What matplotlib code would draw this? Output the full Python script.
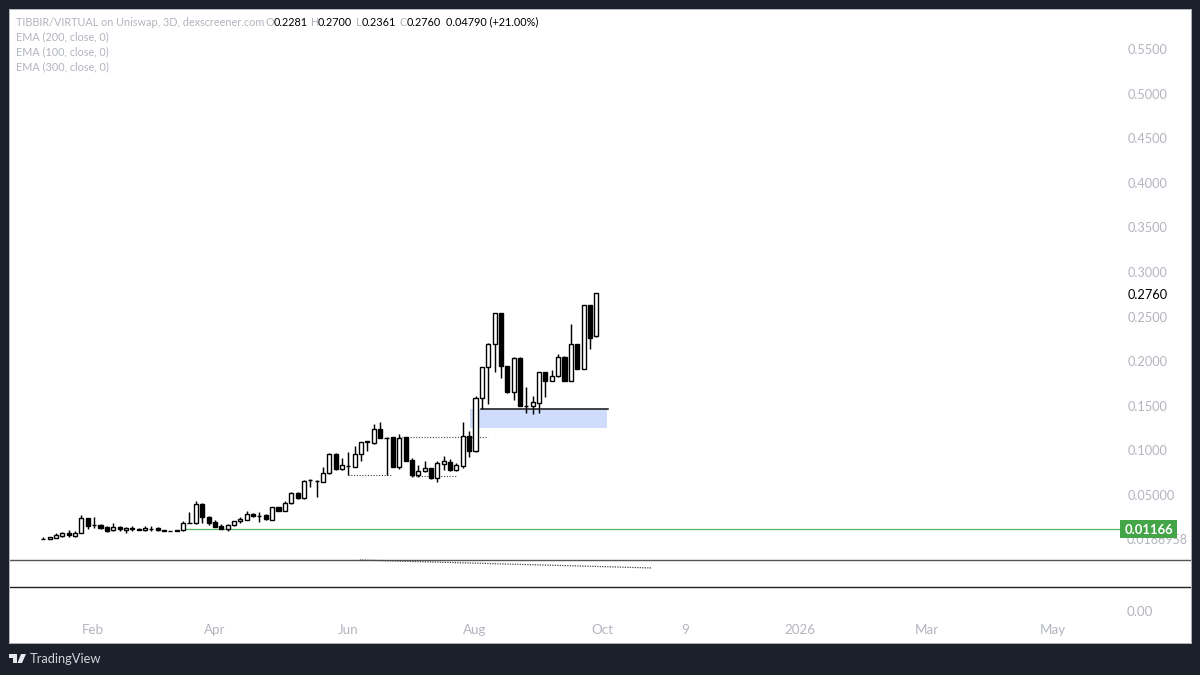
import matplotlib
matplotlib.use("Agg")
import matplotlib.pyplot as plt
from matplotlib.patches import Polygon, Rectangle

# ---- data (prices) ----
opens = [.0009,.0012,.0014,.0040,.0070,.0044,.0078,.0238,.0164,.0167,.0141,.0104,.0138,.0108,.0126,.0123,
         .0104,.0124,.0126,.0108,.0098,.0104,.0104,.0186,.0182,.0399,.0257,.0194,.0152,.0119,.0163,.0205,
         .0224,.0283,.0268,.0272,.0224,.0366,.0324,.0407,.0519,.0466,.0668,.0662,.0649,.0743,.0963,.0788,
         .0829,.0818,.0963,.1098,.1079,.1236,.1143,.1150,.0818,.1146,.0896,.0724,.0765,.0799,.0687,.0847,
         .0874,.0776,.0825,.1161,.0993,.1591,.1935,.2197,.2537,.1946,.1651,.2040,.1502,.1502,.1528,.1875,
         .1782,.1834,.2051,.1782,.2189,.1913,.2630,.2281]
highs = [.0028,.0033,.0070,.0089,.0108,.0100,.0272,.0246,.0257,.0175,.0152,.0182,.0156,.0138,.0152,.0126,
         .0152,.0152,.0141,.0111,.0100,.0108,.0212,.0306,.0429,.0407,.0264,.0220,.0175,.0175,.0212,.0250,
         .0317,.0302,.0306,.0283,.0369,.0369,.0429,.0530,.0537,.0668,.0675,.0668,.0810,.0967,.0967,.0911,
         .0982,.1049,.1098,.1109,.1296,.1314,.1150,.1150,.1184,.1150,.0911,.0840,.0885,.0803,.0885,.0937,
         .0900,.0855,.1318,.1221,.1614,.1940,.2204,.2540,.2540,.1950,.2044,.2044,.1707,.1606,.1879,.1879,
         .1898,.2077,.2055,.2413,.2193,.2634,.2634,.2760]
lows = [.0003,.0007,.0014,.0025,.0033,.0033,.0070,.0119,.0126,.0119,.0081,.0096,.0100,.0078,.0100,.0104,
        .0100,.0100,.0100,.0096,.0092,.0098,.0100,.0182,.0175,.0190,.0167,.0138,.0115,.0100,.0152,.0190,
        .0220,.0250,.0201,.0220,.0220,.0320,.0317,.0400,.0451,.0459,.0593,.0474,.0642,.0735,.0780,.0780,
        .0724,.0810,.0885,.0997,.1071,.1135,.0720,.0810,.0788,.0877,.0705,.0705,.0758,.0683,.0646,.0780,
        .0772,.0769,.0799,.0930,.0978,.1464,.1520,.1883,.1815,.1648,.1565,.1498,.1419,.1408,.1419,.1599,
        .1778,.1827,.1778,.1778,.1909,.1909,.2137,.2276]
closes = [.0012,.0025,.0052,.0070,.0048,.0078,.0242,.0152,.0160,.0134,.0100,.0141,.0115,.0134,.0124,.0108,
          .0130,.0122,.0108,.0102,.0096,.0102,.0182,.0190,.0399,.0257,.0190,.0145,.0119,.0167,.0205,.0235,
          .0283,.0264,.0265,.0227,.0369,.0324,.0407,.0519,.0466,.0661,.0665,.0659,.0750,.0963,.0788,.0833,
          .0826,.0963,.1090,.1100,.1236,.1143,.1140,.0814,.1143,.0885,.0724,.0773,.0799,.0687,.0855,.0877,
          .0780,.0833,.1161,.0989,.1591,.1935,.2197,.2537,.1946,.1651,.2040,.1502,.1499,.1539,.1875,.1782,
          .1834,.2051,.1782,.2189,.1913,.2630,.2264,.2760]

y_ticks = [0.05, 0.10, 0.15, 0.20, 0.25, 0.30, 0.35, 0.40, 0.45, 0.50, 0.55]
y_labels = ["0.05000", "0.1000", "0.1500", "0.2000", "0.2500", "0.3000", "0.3500", "0.4000", "0.4500", "0.5000", "0.5500"]
x_ticks = [7.8, 26.9, 47.9, 67.9, 87.9, 101.0, 119.0, 139.0, 158.9]
x_labels = ["Feb", "Apr", "Jun", "Aug", "Oct", "9", "2026", "Mar", "May"]

last_price = 0.2760
green_level = 0.01166
support_level = 0.1464
zone_low = 0.1246
pane_line_a = -0.0224
pane_line_b = -0.0534
dotted_levels = [(47.9, 54.9, 0.0728), (55.96, 69.97, 0.1150), (58.2, 64.9, 0.0708)]
trend_x = [49.8, 95.8]
trend_y = [-0.0229, -0.0318]

# ---- layout ----
W, H = 1200, 675
L_PX, R_PX, T_PX, B_PX = 9, 1191, 9, 643
BG = "#1c202b"
GREY = "#b2b5be"
plt.rcParams["font.family"] = ["Lato", "DejaVu Sans"]

fig = plt.figure(figsize=(12, 6.75), dpi=100, facecolor=BG)
ax = fig.add_axes([L_PX / W, 1 - B_PX / H, (R_PX - L_PX) / W, (B_PX - T_PX) / H], facecolor="white")
ax.set_xlim((L_PX - 43.3) / 6.356, (R_PX - 43.3) / 6.356)
ax.set_ylim((539.6 - B_PX) / 892, (539.6 - T_PX) / 892)
for s in ax.spines.values():
    s.set_color("#aeb2ba")
    s.set_linewidth(0.7)

# zone under candles
ax.add_patch(Rectangle((67.1, zone_low), 21.6, support_level - zone_low, fc="#cfdcfb", ec="none", zorder=1))

# candles
idx = list(range(len(opens)))
ax.vlines(idx, lows, highs, color="black", lw=1.05, zorder=3)
bottoms = [min(o, c) for o, c in zip(opens, closes)]
heights = [abs(o - c) for o, c in zip(opens, closes)]
faces = ["white" if c >= o else "black" for o, c in zip(opens, closes)]
ax.bar(idx, heights, bottom=bottoms, width=0.64, color=faces, edgecolor="black", linewidth=1.0, zorder=4)

# levels
ax.plot([22.3, 170], [green_level] * 2, color="#57b35b", lw=0.85, zorder=2)
ax.plot([68.9, 88.85], [support_level] * 2, color="#111111", lw=1.1, zorder=5)
for x0, x1, lv in dotted_levels:
    ax.plot([x0, x1], [lv, lv], color="#444444", lw=0.8, ls=(0, (1, 1.5)), zorder=2)
ax.axhline(pane_line_a, color="#555555", lw=1.0, zorder=2)
ax.axhline(pane_line_b, color="#222222", lw=1.0, zorder=2)
ax.plot(trend_x, trend_y, color="#444444", lw=0.9, ls=(0, (1, 1)), zorder=2)

# axes ticks
ax.set_yticks(y_ticks, y_labels)
ax.yaxis.tick_right()
ax.tick_params(axis="y", length=0, direction="in", pad=-45.5, labelsize=9.2, labelcolor=GREY)
for lab in ax.get_yticklabels():
    lab.set_ha("left")
ax.set_xticks(x_ticks, x_labels)
ax.tick_params(axis="x", length=0, direction="in", pad=-14, labelsize=9.6, labelcolor=GREY)


def px(x, y):
    return x / W, 1 - y / H


fig.text(*px(1128, 295), f"{last_price:.4f}", color="black", fontsize=9.2, va="center", ha="left")
fig.text(*px(1127, 540), "0.0186958", color=GREY, fontsize=9.0, va="center", ha="left")
fig.text(*px(1127, 612), "0.00", color=GREY, fontsize=9.6, va="center", ha="left")
fig.patches.append(Rectangle(px(1120, 538), 57 / W, 18 / H, transform=fig.transFigure, fc="#43a547", ec="none", zorder=5))
fig.text(*px(1149, 529.5), f"{green_level:.5f}", color="white", fontsize=9.4, fontweight="bold",
         va="center", ha="center", zorder=6)

# legend
LEG = 7.8
fig.text(*px(16, 22), "TIBBIR/VIRTUAL on Uniswap, 3D, dexscreener.com", color=GREY, fontsize=LEG, va="center")
for x, t, c in [(266, "O", GREY), (274, "0.2281", "black"), (311, "H", GREY), (318, "0.2700", "black"),
                (356, "L", GREY), (362, "0.2361", "black"), (400, "C", GREY), (407, "0.2760", "black"),
                (446, "0.04790 (+21.00%)", "black")]:
    fig.text(*px(x, 22), t, color=c, fontsize=LEG, va="center")
for y, t in [(37, "EMA (200, close, 0)"), (52, "EMA (100, close, 0)"), (67, "EMA (300, close, 0)")]:
    fig.text(*px(16, y), t, color=GREY, fontsize=LEG, va="center")

# footer logo and name
LOGO = "#e6e8ee"
t = fig.transFigure
fig.patches.append(Polygon([px(9, 654), px(17, 654), px(17, 663), px(13, 663), px(13, 658), px(9, 658)],
                           closed=True, transform=t, fc=LOGO, ec="none"))
fig.patches.append(Polygon([px(21, 654), px(26, 654), px(22, 663), px(17.5, 663)],
                           closed=True, transform=t, fc=LOGO, ec="none"))
fig.text(*px(30, 659), "TradingView", color="#d1d4dc", fontsize=9.3, va="center")

fig.savefig("out.png", dpi=100, facecolor=BG)
